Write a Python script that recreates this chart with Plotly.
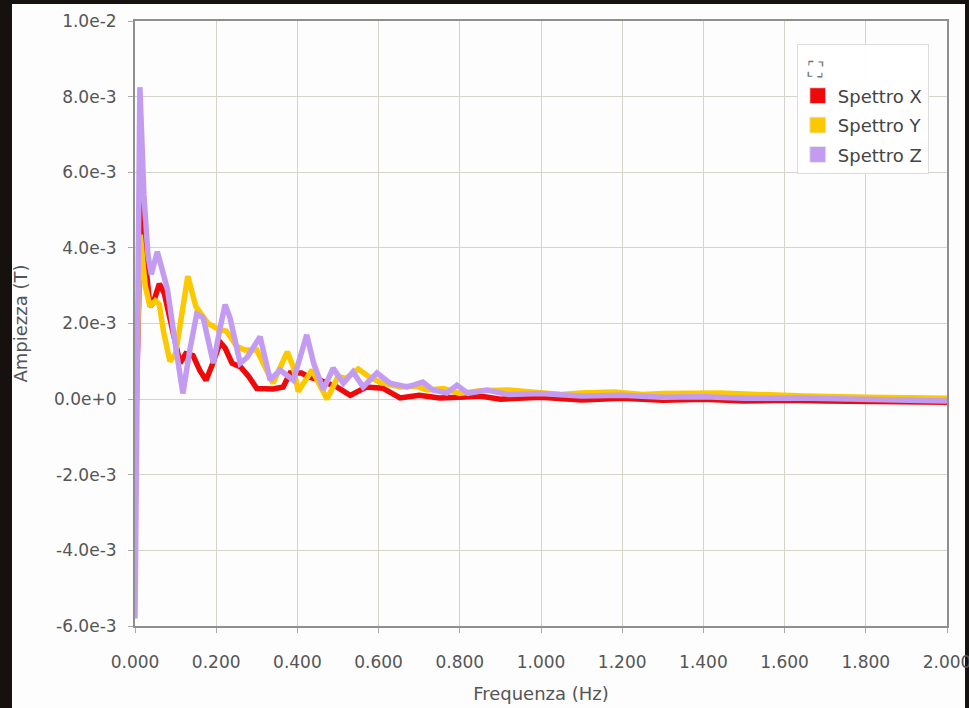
import plotly.graph_objects as go

# ---- data ----
freq_x = [0.000, 0.015, 0.025, 0.037, 0.045, 0.060, 0.072, 0.086, 0.100, 0.111, 0.125, 0.143,
          0.160, 0.175, 0.190, 0.210, 0.222, 0.239, 0.260, 0.280, 0.300, 0.340, 0.365, 0.382,
          0.410, 0.430, 0.455, 0.497, 0.530, 0.570, 0.610, 0.653, 0.700, 0.750, 0.800, 0.850,
          0.900, 1.000, 1.100, 1.200, 1.300, 1.400, 1.500, 1.600, 1.700, 1.800, 2.000]
amp_x = [-1.5e-3, 5.25e-3, 3.7e-3, 2.45e-3, 2.55e-3, 3.05e-3, 2.8e-3, 2.15e-3, 1.5e-3, 0.95e-3,
         1.2e-3, 1.15e-3, 0.75e-3, 0.5e-3, 0.9e-3, 1.5e-3, 1.35e-3, 0.95e-3, 0.85e-3, 0.6e-3,
         0.28e-3, 0.27e-3, 0.32e-3, 0.69e-3, 0.69e-3, 0.58e-3, 0.5e-3, 0.32e-3, 0.1e-3, 0.32e-3,
         0.29e-3, 0.03e-3, 0.1e-3, 0.03e-3, 0.05e-3, 0.08e-3, 0.0, 0.05e-3, -0.02e-3, 0.02e-3,
         -0.03e-3, 0.0, -0.05e-3, -0.03e-3, -0.05e-3, -0.06e-3, -0.08e-3]

freq_y = [0.000, 0.013, 0.025, 0.037, 0.050, 0.060, 0.070, 0.086, 0.100, 0.130, 0.150, 0.180,
          0.205, 0.225, 0.250, 0.270, 0.300, 0.316, 0.340, 0.375, 0.390, 0.402, 0.423, 0.436,
          0.473, 0.500, 0.520, 0.550, 0.575, 0.603, 0.653, 0.690, 0.720, 0.760, 0.800, 0.850,
          0.920, 1.000, 1.050, 1.100, 1.180, 1.250, 1.300, 1.440, 1.550, 1.650, 1.800, 2.000]
amp_y = [-1.0e-3, 4.35e-3, 3.0e-3, 2.45e-3, 2.6e-3, 2.5e-3, 1.8e-3, 1.0e-3, 1.2e-3, 3.25e-3,
         2.45e-3, 2.0e-3, 1.85e-3, 1.8e-3, 1.4e-3, 1.3e-3, 1.3e-3, 0.95e-3, 0.42e-3, 1.25e-3,
         0.85e-3, 0.2e-3, 0.55e-3, 0.77e-3, 0.0, 0.6e-3, 0.55e-3, 0.8e-3, 0.6e-3, 0.45e-3,
         0.32e-3, 0.35e-3, 0.24e-3, 0.28e-3, 0.15e-3, 0.22e-3, 0.24e-3, 0.18e-3, 0.12e-3, 0.16e-3,
         0.19e-3, 0.12e-3, 0.15e-3, 0.16e-3, 0.10e-3, 0.08e-3, 0.05e-3, 0.02e-3]

freq_z = [0.000, 0.012, 0.022, 0.032, 0.040, 0.055, 0.065, 0.080, 0.100, 0.118, 0.135, 0.152,
          0.168, 0.193, 0.210, 0.222, 0.234, 0.259, 0.276, 0.308, 0.333, 0.357, 0.390, 0.423,
          0.440, 0.464, 0.488, 0.513, 0.537, 0.562, 0.596, 0.628, 0.670, 0.709, 0.734, 0.768,
          0.793, 0.820, 0.867, 0.920, 1.000, 1.100, 1.200, 1.300, 1.400, 1.500, 1.640, 1.800,
          1.900, 2.000]
amp_z = [-5.8e-3, 8.25e-3, 5.4e-3, 3.8e-3, 3.3e-3, 3.9e-3, 3.5e-3, 2.9e-3, 1.4e-3, 0.15e-3,
         1.3e-3, 2.25e-3, 2.15e-3, 0.95e-3, 1.9e-3, 2.5e-3, 2.15e-3, 0.95e-3, 1.1e-3, 1.65e-3,
         0.5e-3, 0.77e-3, 0.5e-3, 1.7e-3, 0.95e-3, 0.25e-3, 0.82e-3, 0.42e-3, 0.72e-3, 0.32e-3,
         0.69e-3, 0.42e-3, 0.32e-3, 0.45e-3, 0.24e-3, 0.16e-3, 0.37e-3, 0.15e-3, 0.24e-3, 0.12e-3,
         0.15e-3, 0.08e-3, 0.10e-3, 0.05e-3, 0.06e-3, 0.02e-3, 0.03e-3, 0.0, -0.02e-3, -0.05e-3]

series_names = ["Spettro X", "Spettro Y", "Spettro Z"]
series_colors = ["#ee0a0a", "#fcc800", "#c39cf2"]

y_tickvals = [-6e-3, -4e-3, -2e-3, 0.0, 2e-3, 4e-3, 6e-3, 8e-3, 1e-2]
y_ticktext = ["-6.0e-3", "-4.0e-3", "-2.0e-3", "0.0e+0", "2.0e-3", "4.0e-3", "6.0e-3", "8.0e-3", "1.0e-2"]
x_tickvals = [0.0, 0.2, 0.4, 0.6, 0.8, 1.0, 1.2, 1.4, 1.6, 1.8, 2.0]

FONT = "DejaVu Sans"
TXT = "#555555"

fig = go.Figure()
for fx, ay, name, col in zip([freq_x, freq_y, freq_z], [amp_x, amp_y, amp_z], series_names, series_colors):
    fig.add_trace(go.Scatter(x=fx, y=ay, mode="lines", name=name,
                             line=dict(color=col, width=5.5), showlegend=False))
# legend swatches
for name, col in zip(series_names, series_colors):
    fig.add_trace(go.Scatter(x=[None], y=[None], mode="markers", name=name, legendgroup=name,
                             marker=dict(symbol="square", size=20, color=col,
                                         line=dict(color="#e8e8e8", width=1))))

fig.add_shape(type="rect", xref="paper", yref="paper", x0=-0.1515, x1=1.0222, y0=-0.2, y1=1.028,
              fillcolor="#fdfdfd", line=dict(width=0), layer="below")

fig.update_layout(
    width=969, height=708,
    margin=dict(l=135, r=22, t=21, b=82),
    paper_bgcolor="#16110e",
    plot_bgcolor="#fdfaf0",
    font=dict(family=FONT, color=TXT, size=17),
    legend=dict(x=0.815, y=0.962, xanchor="left", yanchor="top",
                bgcolor="rgba(255,255,255,0.92)", bordercolor="#dddddd", borderwidth=1,
                font=dict(size=18, color="#444444"), tracegroupgap=3,
                title=dict(text="\u00a0<span style='font-size:21px'>⛶</span>",
                           font=dict(size=25, color="#777777"))),
    xaxis=dict(range=[0, 2.0], tickvals=x_tickvals, tickformat=".3f",
               showgrid=True, gridcolor="#d6d3ca", gridwidth=1,
               showline=True, linecolor="#8f8f8f", linewidth=2, mirror=True,
               ticks="outside", ticklen=5, tickcolor="#aaaaaa", zeroline=False,
               ticklabelstandoff=15, ticklabeloverflow="allow", automargin=False,
               tickfont=dict(size=17, color=TXT),
               title=dict(text="Frequenza (Hz)", font=dict(size=18, color=TXT), standoff=16)),
    yaxis=dict(range=[-6e-3, 1e-2], tickvals=y_tickvals, ticktext=y_ticktext,
               showgrid=True, gridcolor="#d6d3ca", gridwidth=1,
               showline=True, linecolor="#8f8f8f", linewidth=2, mirror=True,
               ticks="outside", ticklen=5, tickcolor="#aaaaaa", zeroline=False,
               ticklabelstandoff=8, automargin=False,
               tickfont=dict(size=17, color=TXT),
               title=dict(text="Ampiezza (T)", font=dict(size=18, color=TXT), standoff=22)),
)

fig.write_html("out.html")
